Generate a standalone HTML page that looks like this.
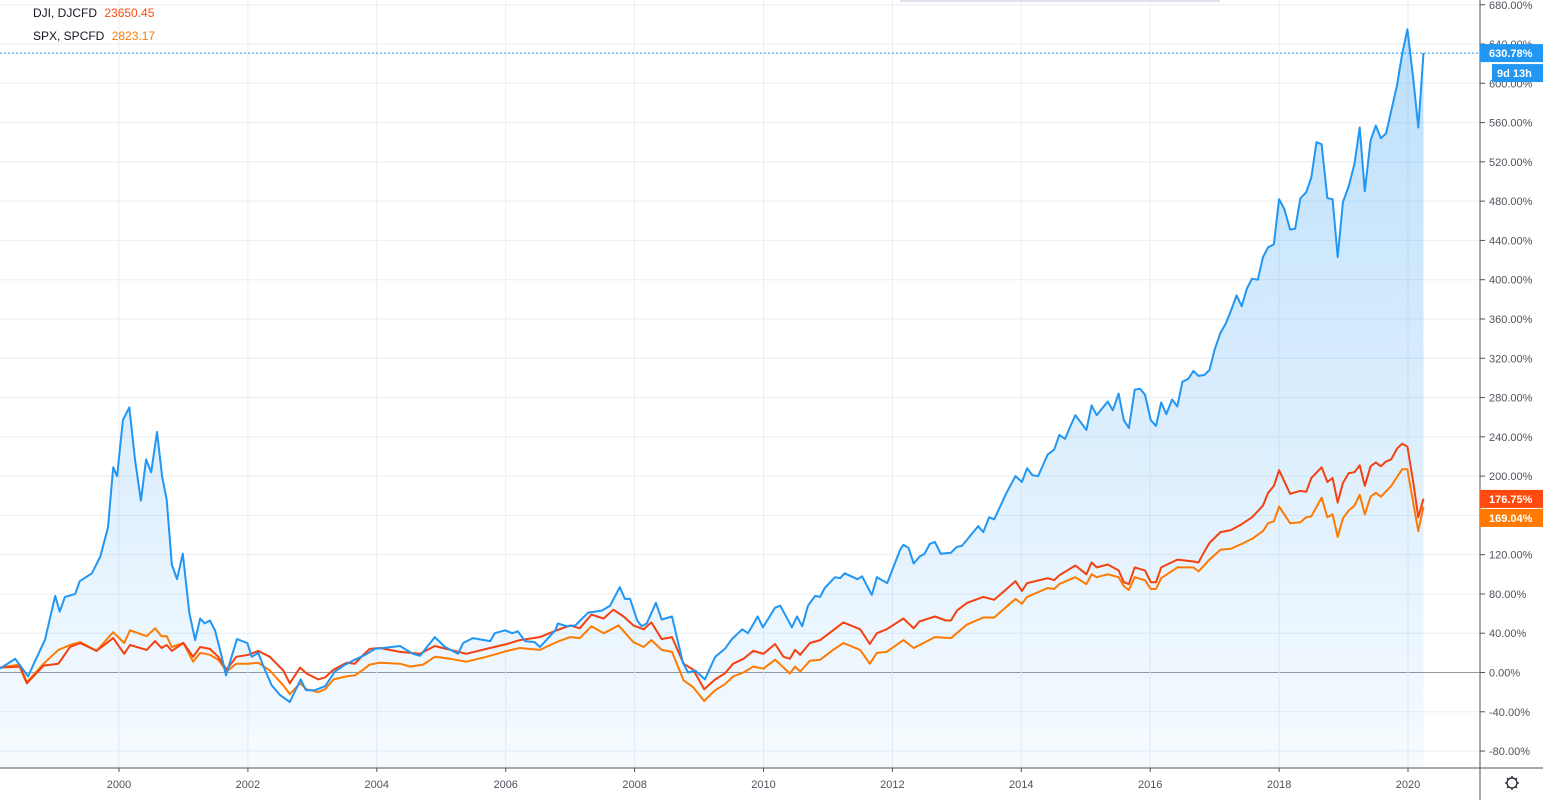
<!DOCTYPE html>
<html><head><meta charset="utf-8">
<style>
html,body{margin:0;padding:0;background:#fff;}
body{width:1543px;height:800px;overflow:hidden;font-family:"Liberation Sans",sans-serif;}
svg text{font-family:"Liberation Sans",sans-serif;}
</style></head>
<body>
<svg id="chart" width="1543" height="800" viewBox="0 0 1543 800" xmlns="http://www.w3.org/2000/svg">
<defs>
<linearGradient id="blueFill" x1="0" y1="0" x2="0" y2="1">
<stop offset="0" stop-color="#2196f3" stop-opacity="0.30"/>
<stop offset="1" stop-color="#2196f3" stop-opacity="0.04"/>
</linearGradient>
</defs>
<g id="grid"></g>
<g id="series"></g>
<g id="axes"></g>
<rect x="900" y="0" width="320" height="2" fill="#e0e3eb"/>
<g font-size="12">
<text x="33" y="17" fill="#131722">DJI, DJCFD <tspan fill="#ff4a0f" dx="4">23650.45</tspan></text>
<text x="33" y="40" fill="#131722">SPX, SPCFD <tspan fill="#ff7a00" dx="4">2823.17</tspan></text>
</g>
</svg>
<script>
const blueDates=[1998.15,1998.39,1998.59,1998.70,1998.85,1999.01,1999.08,1999.16,1999.32,1999.39,1999.58,1999.71,1999.83,1999.91,1999.97,2000.06,2000.16,2000.25,2000.34,2000.42,2000.50,2000.59,2000.67,2000.74,2000.82,2000.90,2000.99,2001.09,2001.18,2001.26,2001.33,2001.41,2001.49,2001.58,2001.66,2001.83,2001.99,2002.06,2002.16,2002.25,2002.37,2002.50,2002.65,2002.82,2002.90,2003.04,2003.20,2003.35,2003.51,2003.66,2003.82,2003.97,
2004.36,2004.56,2004.67,2004.90,2005.06,2005.26,2005.34,2005.49,2005.76,2005.83,2005.99,2006.10,2006.19,2006.30,2006.45,2006.53,2006.77,2006.81,2006.95,2007.08,2007.28,2007.49,2007.62,2007.77,2007.85,2007.93,2008.04,2008.11,2008.19,2008.33,2008.42,2008.58,2008.75,2008.83,2008.94,2009.09,2009.25,2009.40,2009.51,2009.67,2009.76,2009.91,2009.99,2010.18,2010.26,2010.44,2010.52,2010.60,2010.69,2010.80,2010.88,2010.95,2011.11,2011.19,2011.26,2011.46,2011.53,2011.68,2011.76,2011.92,2012.12,
2012.17,2012.25,2012.33,2012.42,2012.50,2012.58,2012.66,2012.75,2012.91,2013.00,2013.08,2013.33,2013.41,2013.50,2013.58,2013.77,2013.91,2014.01,2014.09,2014.17,2014.26,2014.41,2014.51,2014.59,2014.68,2014.75,2014.84,2015.01,2015.09,2015.17,2015.34,2015.42,2015.51,2015.59,2015.67,2015.76,2015.84,2015.92,2016.01,2016.09,2016.17,2016.25,2016.34,2016.42,2016.50,2016.59,2016.67,2016.75,2016.84,2016.92,2017.00,2017.09,2017.17,2017.25,2017.34,2017.42,2017.50,2017.58,2017.67,2017.75,2017.83,2017.92,2018.00,2018.08,2018.17,2018.25,2018.33,2018.42,2018.50,2018.58,2018.66,2018.75,2018.83,2018.91,2018.99,2019.08,2019.17,2019.25,2019.33,2019.42,2019.50,2019.58,2019.66,2019.74,2019.83,2019.91,2019.99,2020.08,2020.16,2020.24];
const blueValues=[4,14,-4,12,33,78,62,77,80,93,101,118,148,209,200,257,270,216,175,217,204,245,199,176,110,95,121,61,33,55,50,53,43,20,-3,34,30,16,20,5,-13,-23,-30,-7,-18,-18,-14,1,8,13,18,24,
27,19,17,36,26,19,30,35,32,40,43,40,42,32,31,26,43,50,47,48,61,63,68,87,75,75,53,47,50,71,54,57,10,0,2,-7,16,24,34,44,40,57,46,66,68,46,57,47,68,78,77,86,97,96,101,95,98,79,97,91,125,
130,127,111,118,121,131,133,121,122,128,129,149,143,158,156,183,200,194,208,201,200,222,227,242,238,249,262,247,272,262,276,267,284,257,249,288,289,283,257,251,275,263,278,271,296,299,307,302,303,308,329,346,355,368,384,373,391,401,400,423,433,436,482,472,451,452,483,489,504,540,538,483,482,423,479,495,518,555,490,542,557,544,549,572,598,630,655,605,555,631];

const redDates=[1998.15,1998.46,1998.57,1998.83,1999.06,1999.24,1999.40,1999.65,1999.91,2000.08,2000.17,2000.43,2000.56,2000.66,2000.74,2000.82,2001.00,2001.15,2001.26,2001.41,2001.54,2001.67,2001.82,2002.01,2002.16,2002.34,2002.55,2002.65,2002.81,2002.91,2003.09,2003.20,2003.33,2003.53,2003.66,2003.79,2003.89,2004.05,
2004.36,2004.67,2004.90,2005.14,2005.39,2005.70,2006.02,2006.22,2006.53,2006.79,2007.00,2007.15,2007.33,2007.52,2007.67,2007.83,2007.98,2008.14,2008.26,2008.42,2008.58,2008.76,2008.91,2009.08,2009.25,2009.40,2009.53,2009.69,2009.84,2010.00,2010.18,2010.31,2010.41,2010.49,2010.57,2010.72,2010.88,2011.08,2011.24,2011.50,2011.65,2011.76,2011.91,
2012.17,2012.33,2012.42,2012.66,2012.83,2012.91,2013.00,2013.16,2013.41,2013.58,2013.91,2014.01,2014.09,2014.41,2014.51,2014.59,2014.84,2015.01,2015.09,2015.17,2015.34,2015.51,2015.59,2015.67,2015.76,2015.92,2016.01,2016.09,2016.17,2016.42,2016.67,2016.75,2016.84,2016.92,2017.09,2017.25,2017.42,2017.58,2017.75,2017.83,2017.92,2018.00,2018.17,2018.33,2018.42,2018.50,2018.66,2018.75,2018.83,2018.91,2018.99,2019.08,2019.17,2019.25,2019.33,2019.42,2019.50,2019.58,2019.66,2019.74,2019.83,2019.91,2019.99,2020.08,2020.16,2020.24];
const redValues=[5,6,-11,7,9,26,30,22,35,19,28,23,32,25,28,22,30,16,26,24,16,3,16,18,22,16,2,-11,5,-1,-7,-5,3,10,9,18,24,25,
21,19,27,23,19,24,29,33,36,43,48,45,59,55,64,57,48,44,51,34,36,9,3,-17,-7,-1,9,14,22,19,29,16,14,23,18,30,33,43,51,44,29,40,44,
55,45,52,57,53,53,63,71,77,74,93,83,91,96,94,99,109,100,112,107,110,104,92,90,107,104,92,92,107,115,113,112,123,132,143,145,151,158,170,183,190,206,182,185,184,198,209,194,198,173,193,203,204,211,190,210,214,210,215,217,228,233,230,194,158,177];

const orangeDates=[1998.15,1998.46,1998.57,1998.83,1999.06,1999.24,1999.40,1999.65,1999.91,2000.08,2000.17,2000.43,2000.56,2000.66,2000.74,2000.82,2001.00,2001.15,2001.26,2001.41,2001.54,2001.67,2001.82,2002.01,2002.16,2002.34,2002.55,2002.65,2002.81,2002.91,2003.09,2003.20,2003.33,2003.53,2003.66,2003.79,2003.89,2004.05,
2004.36,2004.52,2004.72,2004.90,2005.14,2005.39,2005.70,2006.02,2006.22,2006.53,2006.79,2007.00,2007.15,2007.33,2007.52,2007.67,2007.75,2007.98,2008.14,2008.26,2008.42,2008.58,2008.76,2008.91,2009.08,2009.25,2009.40,2009.53,2009.69,2009.84,2010.00,2010.18,2010.41,2010.49,2010.57,2010.72,2010.88,2011.08,2011.24,2011.50,2011.65,2011.76,2011.91,
2012.17,2012.33,2012.66,2012.91,2013.16,2013.41,2013.58,2013.91,2014.01,2014.09,2014.41,2014.51,2014.59,2014.84,2015.01,2015.09,2015.17,2015.34,2015.51,2015.59,2015.67,2015.76,2015.92,2016.01,2016.09,2016.17,2016.42,2016.67,2016.75,2016.92,2017.09,2017.25,2017.42,2017.58,2017.75,2017.83,2017.92,2018.00,2018.17,2018.33,2018.42,2018.50,2018.66,2018.75,2018.83,2018.91,2018.99,2019.08,2019.17,2019.25,2019.33,2019.42,2019.50,2019.58,2019.74,2019.91,2019.99,2020.08,2020.16,2020.24];
const orangeValues=[5,8,-10,9,23,28,31,22,41,30,43,37,45,37,37,26,30,11,20,18,13,1,9,9,10,2,-13,-22,-11,-17,-20,-17,-7,-4,-3,3,8,10,
9,6,8,16,14,11,16,22,25,23,31,36,35,47,40,45,48,31,26,33,23,21,-8,-15,-29,-18,-12,-4,0,6,4,13,-1,6,1,12,13,23,30,23,9,20,21,
33,25,36,35,49,56,56,75,70,77,86,85,90,97,90,100,97,100,97,88,84,97,94,85,85,96,107,107,103,115,125,126,131,136,144,152,154,169,152,153,158,159,178,158,161,138,157,165,170,181,161,179,183,179,190,207,207,173,144,169];

const yTicks=[680,640,600,560,520,480,440,400,360,320,280,240,200,160,120,80,40,0,-40,-80];
const xTicks=[2000,2002,2004,2006,2008,2010,2012,2014,2016,2018,2020];
const lastLabels=[{v:630.78,txt:"630.78%",color:"#2196f3"},{v:176.75,txt:"176.75%",color:"#ff4a0f"},{v:169.04,txt:"169.04%",color:"#ff7a00"}];

const NS="http://www.w3.org/2000/svg";
const PLOT_R=1480, PLOT_B=768;
function xs(year){return 119+(year-2000)*64.45;}
function ys(v){return 672.5-v*0.982;}
function mk(tag,attrs,parent){const e=document.createElementNS(NS,tag);for(const k in attrs)e.setAttribute(k,attrs[k]);parent.appendChild(e);return e;}

const grid=document.getElementById('grid'), series=document.getElementById('series'), axes=document.getElementById('axes');
yTicks.forEach(t=>{
  const l=mk('line',{x1:0,x2:PLOT_R,y1:ys(t),y2:ys(t),stroke:t===0?'#9598a1':'#e8eef5','stroke-width':1},grid);
  
  
});
xTicks.forEach(t=>{
  const l=mk('line',{x1:xs(t),x2:xs(t),y1:0,y2:PLOT_B,stroke:'#e8eef5','stroke-width':1},grid);
  
  
});

function pathOf(d,v){return d.map((yr,i)=>(i?'L':'M')+xs(yr).toFixed(1)+','+ys(v[i]).toFixed(1)).join('');}
const bp=pathOf(blueDates,blueValues);
const area=mk('path',{d:bp+'L'+xs(blueDates[blueDates.length-1]).toFixed(1)+','+PLOT_B+'L'+xs(blueDates[0]).toFixed(1)+','+PLOT_B+'Z',fill:'url(#blueFill)',stroke:'none'},series);


const ol=mk('path',{d:pathOf(orangeDates,orangeValues),fill:'none',stroke:'#ff7a00','stroke-width':2,'stroke-linejoin':'round'},series);


const rl=mk('path',{d:pathOf(redDates,redValues),fill:'none',stroke:'#f5400f','stroke-width':2,'stroke-linejoin':'round'},series);


const bl=mk('path',{d:bp,fill:'none',stroke:'#2196f3','stroke-width':2,'stroke-linejoin':'round'},series);



const dl=mk('line',{x1:0,x2:PLOT_R,y1:ys(lastLabels[0].v),y2:ys(lastLabels[0].v),stroke:'#2196f3','stroke-width':1,'stroke-dasharray':'2,2'},series);



const ax=mk('line',{x1:PLOT_R,x2:PLOT_R,y1:0,y2:800,stroke:'#50535e','stroke-width':1},axes);


const bx=mk('line',{x1:0,x2:1543,y1:PLOT_B,y2:PLOT_B,stroke:'#50535e','stroke-width':1},axes);



yTicks.forEach(t=>{
  const y=ys(t);
  const tk=mk('line',{x1:PLOT_R,x2:PLOT_R+5,y1:y,y2:y,stroke:'#50535e'},axes);
  
  
  const tx=mk('text',{x:1489,y:y+4,'font-size':11,fill:'#50535e'},axes);
  tx.textContent=t.toFixed(2)+'%';
  
  
});
xTicks.forEach(t=>{
  const x=xs(t);
  const tk=mk('line',{x1:x,x2:x,y1:PLOT_B,y2:PLOT_B+4,stroke:'#50535e'},axes);
  
  
  const tx=mk('text',{x:x,y:788,'font-size':11,fill:'#50535e','text-anchor':'middle'},axes);
  tx.textContent=String(t);
  
  
});

lastLabels.forEach((L,i)=>{
  let y=ys(L.v);
  if(i===2) y=Math.max(y, ys(lastLabels[1].v)+19);
  const r=mk('rect',{x:PLOT_R,y:y-9,width:63,height:18,fill:L.color},axes);
  
  
  const tx=mk('text',{x:1489,y:y+4,'font-size':11,'font-weight':'bold',fill:'#fff'},axes);
  tx.textContent=L.txt;
  
  
});
const cd=mk('rect',{x:1492,y:ys(lastLabels[0].v)+11,width:51,height:18,fill:'#2196f3'},axes);


const cdt=mk('text',{x:1497,y:ys(lastLabels[0].v)+24,'font-size':11,'font-weight':'bold',fill:'#fff'},axes);
cdt.textContent='9d 13h';



const gear=mk('g',{transform:'translate(1512,783)'},axes);


mk('circle',{cx:0,cy:0,r:5,fill:'none',stroke:'#131722','stroke-width':1.2},gear);
[0,45,90,135,180,225,270,315].forEach(a=>{
  const rad=a*Math.PI/180;
  mk('line',{x1:5*Math.cos(rad),y1:5*Math.sin(rad),x2:7*Math.cos(rad),y2:7*Math.sin(rad),stroke:'#131722','stroke-width':1.2},gear);
});
</script>
</body></html>
